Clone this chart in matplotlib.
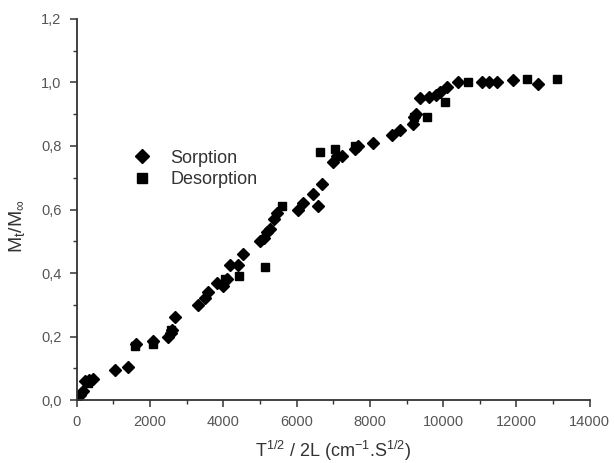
import matplotlib
matplotlib.use("Agg")
import matplotlib.pyplot as plt
from matplotlib.ticker import MultipleLocator, FuncFormatter

plt.rcParams['font.family'] = ['Liberation Sans', 'DejaVu Sans']
plt.rcParams['mathtext.fontset'] = 'custom'
plt.rcParams['mathtext.rm'] = 'Liberation Sans'
plt.rcParams['mathtext.it'] = 'Liberation Sans'

sorption_x = [90, 180, 230, 330, 450, 1050, 1400, 1620, 2080, 2500, 2560, 2600, 2690,
              3300, 3510, 3590, 3830, 4000, 4100, 4190, 4400, 4540, 5000, 5100, 5190,
              5280, 5380, 5470, 6040, 6180, 6450, 6590, 6700, 7000, 7100, 7240, 7600,
              7680, 8090, 8600, 8820, 9180, 9200, 9250, 9370, 9600, 9800, 9900, 10100,
              10400, 11060, 11250, 11470, 11900, 12590]
sorption_y = [0.016, 0.03, 0.06, 0.063, 0.065, 0.095, 0.105, 0.175, 0.185, 0.20, 0.21,
              0.22, 0.26, 0.30, 0.32, 0.34, 0.37, 0.36, 0.38, 0.425, 0.425, 0.46, 0.50,
              0.51, 0.53, 0.54, 0.57, 0.59, 0.60, 0.62, 0.65, 0.61, 0.68, 0.75, 0.77,
              0.77, 0.79, 0.80, 0.81, 0.835, 0.85, 0.87, 0.89, 0.90, 0.95, 0.955, 0.96,
              0.97, 0.985, 1.0, 1.0, 1.0, 1.0, 1.008, 0.995]

desorption_x = [300, 1600, 2080, 2560, 4050, 4430, 5140, 5600, 6640, 7050, 7600, 9200,
                9560, 10050, 10680, 12290, 13100]
desorption_y = [0.055, 0.17, 0.175, 0.22, 0.38, 0.39, 0.42, 0.61, 0.78, 0.79, 0.80, 0.89,
                0.89, 0.94, 1.0, 1.01, 1.01]

xlabel = r'T$^{1/2}$ / 2L (cm$^{-1}$.S$^{1/2}$)'
ylabel = r'M$_t$/M$_\infty$'

fig = plt.figure(figsize=(6.15, 4.63), dpi=100)
ax = fig.add_axes([0.1247, 0.136, 0.8343, 0.823])

ax.plot(sorption_x, sorption_y, linestyle='none', marker='D', markersize=6.5,
        color='black', label='Sorption')
ax.plot(desorption_x, desorption_y, linestyle='none', marker='s', markersize=6,
        color='black', label='Desorption')

ax.set_xlim(0, 14000)
ax.set_ylim(0, 1.2)
ax.xaxis.set_major_locator(MultipleLocator(2000))
ax.xaxis.set_minor_locator(MultipleLocator(1000))
ax.yaxis.set_major_locator(MultipleLocator(0.2))
ax.yaxis.set_minor_locator(MultipleLocator(0.1))
ax.yaxis.set_major_formatter(FuncFormatter(lambda v, p: f'{v:.1f}'.replace('.', ',')))

for s in ['top', 'right']:
    ax.spines[s].set_visible(False)
for s in ['left', 'bottom']:
    ax.spines[s].set_color('#333333')
    ax.spines[s].set_linewidth(1.3)

ax.tick_params(which='both', direction='out', color='#333333', labelcolor='#555555',
               labelsize=10.5, pad=6)
ax.tick_params(which='major', length=5, width=1.1)
ax.tick_params(which='minor', length=3, width=1.0)

ax.set_xlabel(xlabel, fontsize=13, color='#333333')
ax.set_ylabel(ylabel, fontsize=14, color='#333333')
ax.xaxis.set_label_coords(0.5, -0.103)
ax.yaxis.set_label_coords(-0.097, 0.457)

ax.legend(loc='upper left', bbox_to_anchor=(0.06, 0.70), frameon=False, fontsize=13,
          handletextpad=0.6, labelspacing=0.25, labelcolor='#333333', markerscale=1.15)

fig.savefig('out.png', dpi=100)
